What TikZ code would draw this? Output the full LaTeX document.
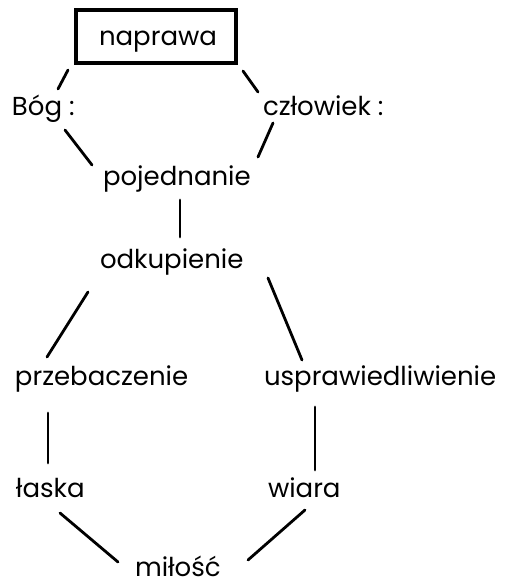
\documentclass[tikz,border=0pt]{standalone}
\usepackage{fontspec}
\setmainfont{Poppins}
\begin{document}
\begin{tikzpicture}[x=1pt,y=-1pt,
  lbl/.style={inner sep=0pt,outer sep=0pt,anchor=base west,font=\fontsize{26}{29}\selectfont},
  conn/.style={line width=2.8pt,line cap=round},
  boxnode/.style={draw,line width=4pt,inner sep=0pt,outer sep=0pt,minimum width=160pt,minimum height=52.5pt,
    text height=17.5pt,text depth=0pt,font=\fontsize{26}{29}\selectfont}]
\useasboundingbox (0,0) rectangle (504,584);
\node[boxnode] (nap) at (155.5,36.25) {\hspace{5pt}naprawa};
\node[lbl] (bog) at (12,115) {Bóg :};
\node[lbl] (czl) at (263,115) {człowiek :};
\node[lbl] (poj) at (103,185) {pojednanie};
\node[lbl] (odk) at (100,268) {odkupienie};
\node[lbl] (prz) at (15,385) {przebaczenie};
\node[lbl] (usp) at (264,385) {usprawiedliwienie};
\node[lbl] (las) at (16,497) {łaska};
\node[lbl] (wia) at (268,497) {wiara};
\node[lbl] (mil) at (135,576) {miłość};
\draw[conn] ([shift={(-7.5,7.5)}]nap.south west) -- ([shift={(46,-26)}]bog.base west);
\draw[conn] ([shift={(7.5,8.5)}]nap.south east) -- ([shift={(-5,-23)}]czl.base west);
\draw[conn] ([shift={(53,15)}]bog.base west) -- ([shift={(-11,-20)}]poj.base west);
\draw[conn] ([shift={(10,8)}]czl.base west) -- ([shift={(155,-28)}]poj.base west);
\draw[conn] ([shift={(77,15)}]poj.base west) -- ([shift={(80,-31)}]odk.base west);
\draw[conn] ([shift={(-12,24)}]odk.base west) -- ([shift={(32,-28)}]prz.base west);
\draw[conn] ([shift={(168,10)}]odk.base west) -- ([shift={(38,-25)}]usp.base west);
\draw[conn] ([shift={(33,28)}]prz.base west) -- ([shift={(32,-34)}]las.base west);
\draw[conn] ([shift={(51,22)}]usp.base west) -- ([shift={(47,-27)}]wia.base west);
\draw[conn] ([shift={(44,16)}]las.base west) -- ([shift={(-17,-14)}]mil.base west);
\draw[conn] ([shift={(37,13)}]wia.base west) -- ([shift={(113,-16)}]mil.base west);
\end{tikzpicture}
\end{document}
